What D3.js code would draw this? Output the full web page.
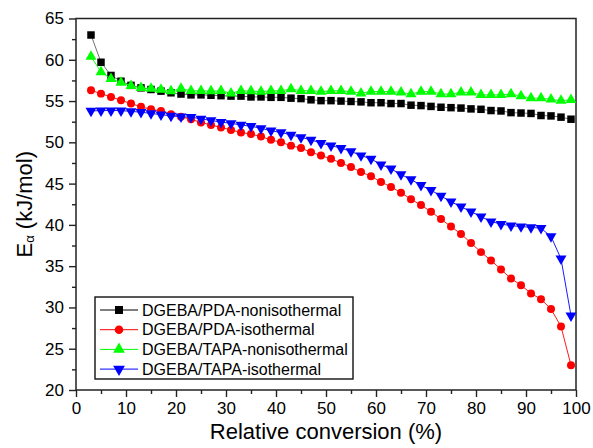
<!DOCTYPE html>
<html><head><meta charset="utf-8">
<script src="https://cdn.jsdelivr.net/npm/d3@7/dist/d3.min.js"></script>
<style>
body{margin:0;background:#fff}
text{font-family:"Liberation Sans",Arial,Helvetica,sans-serif;fill:#000}
</style>
</head><body>
<svg id="chart" width="593" height="448"></svg>
<script>
// ---- data ----
const conversion = [3,5,7,9,11,13,15,17,19,21,23,25,27,29,31,33,35,37,39,41,43,45,47,49,51,53,55,57,59,61,63,65,67,69,71,73,75,77,79,81,83,85,87,89,91,93,95,97,99];
const pdaNonIso = [63.0,59.7,58.1,57.4,56.9,56.6,56.4,56.2,56.0,55.85,55.75,55.75,55.7,55.65,55.6,55.6,55.5,55.5,55.45,55.45,55.35,55.3,55.15,55.05,55.05,55.0,54.95,54.9,54.8,54.8,54.7,54.7,54.5,54.45,54.35,54.25,54.2,54.15,54.05,54.0,53.85,53.8,53.6,53.55,53.5,53.25,53.2,53.05,52.8];
const pdaIso = [56.3,55.9,55.5,55.1,54.7,54.3,54.0,53.8,53.4,53.1,52.8,52.4,52.1,51.8,51.5,51.2,51.0,50.7,50.3,50.0,49.6,49.3,48.8,48.4,48.0,47.5,47.0,46.4,45.9,45.2,44.6,43.9,43.1,42.4,41.6,40.7,39.8,38.9,37.8,36.7,35.7,34.6,33.5,32.7,31.7,31.0,29.8,27.7,23.0];
const tapaNonIso = [60.4,58.5,57.7,57.25,56.85,56.6,56.5,56.4,56.2,56.5,56.25,56.25,56.2,56.25,55.95,56.25,56.2,56.15,56.25,56.25,56.45,56.25,56.25,56.15,56.25,56.25,56.15,55.95,56.15,56.15,56.15,56.05,55.85,56.15,56.15,55.85,55.85,56.05,56.05,55.75,55.75,55.75,55.85,55.6,55.35,55.35,55.2,55.05,55.15];
const tapaIso = [53.8,53.85,53.85,53.85,53.75,53.65,53.5,53.35,53.2,53.1,53.05,52.85,52.65,52.45,52.3,52.1,51.95,51.7,51.4,51.2,50.9,50.6,50.3,49.9,49.6,49.3,48.9,48.4,48.0,47.3,46.8,46.1,45.5,44.8,44.2,43.5,42.8,42.2,41.6,41.0,40.4,40.1,39.9,39.8,39.7,39.6,38.6,35.9,29.0];
const seriesNames = ["DGEBA/PDA-nonisothermal","DGEBA/PDA-isothermal","DGEBA/TAPA-nonisothermal","DGEBA/TAPA-isothermal"];
const xTicks = [0,10,20,30,40,50,60,70,80,90,100];
const xMinorTicks = [5,15,25,35,45,55,65,75,85,95];
const yTicks = [20,25,30,35,40,45,50,55,60,65];
const yMinorTicks = [22.5,27.5,32.5,37.5,42.5,47.5,52.5,57.5,62.5];

// ---- styling ----
const seriesValues = [pdaNonIso, pdaIso, tapaNonIso, tapaIso];
const colors = ["#000000","#ff0000","#00ff00","#0000ff"];
const symbols = [d3.symbolSquare, d3.symbolCircle, d3.symbolTriangle, d3.symbolTriangle];
const symSizes = [56, 50, 52, 52];
const rotations = [0,0,0,180];

const svg = d3.select("#chart");
const L = 76, R = 576, T = 18.5, B = 390;
const x = d3.scaleLinear().domain([0,100]).range([L,R]);
const y = d3.scaleLinear().domain([20,65]).range([B,T]);

// axes
function styleAxis(g){
  g.select(".domain").remove();
  g.selectAll(".tick line").attr("stroke","#222").attr("stroke-width",1.4);
  g.selectAll(".tick text").style("font-size","17px").attr("fill","#000");
}
svg.append("g").attr("transform",`translate(0,${B})`)
  .call(d3.axisBottom(x).tickValues(xMinorTicks).tickSize(4).tickFormat(""))
  .call(styleAxis);
svg.append("g").attr("transform",`translate(0,${B})`)
  .call(d3.axisBottom(x).tickValues(xTicks).tickSize(7).tickPadding(5).tickFormat(d3.format("d")))
  .call(styleAxis);
svg.append("g").attr("transform",`translate(${L},0)`)
  .call(d3.axisLeft(y).tickValues(yMinorTicks).tickSize(4).tickFormat(""))
  .call(styleAxis);
svg.append("g").attr("transform",`translate(${L},0)`)
  .call(d3.axisLeft(y).tickValues(yTicks).tickSize(7).tickPadding(5).tickFormat(d3.format("d")))
  .call(styleAxis);

// frame
svg.append("rect").attr("x",L).attr("y",T).attr("width",R-L).attr("height",B-T)
  .attr("fill","none").attr("stroke","#222").attr("stroke-width",1.5);

// series
const line = d3.line().x((d,i)=>x(conversion[i])).y(d=>y(d));
seriesValues.forEach((vals,k)=>{
  const g = svg.append("g");
  g.append("path").datum(vals).attr("d",line).attr("fill","none")
    .attr("stroke",colors[k]).attr("stroke-width",k===0?0.8:0.9).attr("opacity",k===0?0.7:1);
  const sym = d3.symbol().type(symbols[k]).size(symSizes[k]);
  g.selectAll("path.m").data(vals).enter().append("path").attr("class","m")
    .attr("d",sym)
    .attr("transform",(d,i)=>`translate(${x(conversion[i])},${y(d)}) rotate(${rotations[k]})`)
    .attr("fill",colors[k]);
});

// legend
const lg = svg.append("g");
lg.append("rect").attr("x",95).attr("y",297).attr("width",258).attr("height",82)
  .attr("fill","#fff").attr("stroke","#111").attr("stroke-width",1.4);
seriesNames.forEach((name,k)=>{
  const cy = 310 + k*19.7;
  lg.append("line").attr("x1",100).attr("x2",138).attr("y1",cy).attr("y2",cy)
    .attr("stroke",colors[k]).attr("stroke-width",1);
  lg.append("path").attr("d",d3.symbol().type(symbols[k]).size(symSizes[k]*1.15))
    .attr("transform",`translate(119,${cy}) rotate(${rotations[k]})`).attr("fill",colors[k]);
  lg.append("text").attr("x",142).attr("y",cy).attr("dy","0.36em")
    .style("font-size","16px").text(name);
});

// axis titles
svg.append("text").attr("x",(L+R)/2).attr("y",439).attr("text-anchor","middle")
  .style("font-size","22px").text("Relative conversion (%)");
const yt = svg.append("text").attr("transform",`translate(32,${(T+B)/2}) rotate(-90)`)
  .attr("text-anchor","middle").style("font-size","22px");
yt.append("tspan").text("E");
yt.append("tspan").attr("dy",2).style("font-size","13px").text("α");
yt.append("tspan").attr("dy",-2).text(" (kJ/mol)");
</script>
</body></html>
